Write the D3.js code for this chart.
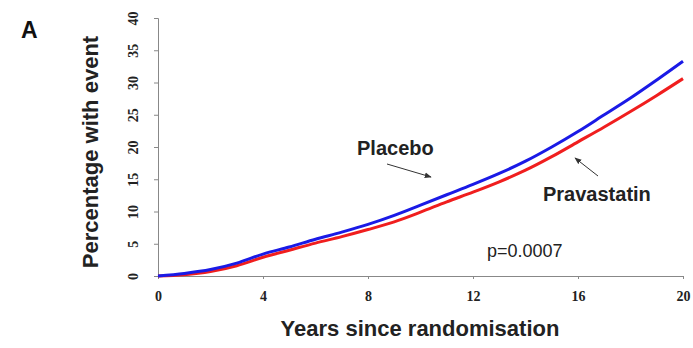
<!DOCTYPE html>
<html lang="en">
  <head>
    <meta charset="UTF-8" />
    <title>Pravastatin vs placebo</title>
    <script src="https://d3js.org/d3.v7.min.js"></script>
    <style>
      body { margin: 0; background: #fff; }
      text { font-family: 'Liberation Sans', Arial, sans-serif; }
      .tick text { font-family: 'Liberation Serif', 'Times New Roman', serif; font-weight: bold; font-size: 14px; fill: #222; }
      .axis path, .axis line { stroke: #888; }
    </style>
  </head>
  <body>
    <script>
      let width = 693
      let height = 348

      // years since randomisation
      let years = [0, 1, 2, 3, 4, 5, 6, 7, 8, 9, 10, 11, 12, 13, 14, 15, 16, 17, 18, 19, 20]
      // cumulative percentage with event
      let placebo = [0, 0.4, 1.0, 2.0, 3.4, 4.5, 5.7, 6.8, 8.0, 9.4, 11.0, 12.6, 14.2, 15.9, 17.8, 20.0, 22.4, 25.0, 27.6, 30.4, 33.3]
      let pravastatin = [0, 0.2, 0.7, 1.6, 2.9, 4.0, 5.1, 6.1, 7.2, 8.4, 9.9, 11.5, 13.0, 14.6, 16.4, 18.5, 20.8, 23.1, 25.5, 28.0, 30.6]
      let xTicks = [0, 4, 8, 12, 16, 20]
      let yTicks = [0, 5, 10, 15, 20, 25, 30, 35, 40]

      let x = d3.scaleLinear().domain([0, 20]).range([158, 683])
      let y = d3.scaleLinear().domain([0, 40]).range([276, 18])

      let svg = d3.select('body').append('svg')
        .attr('width', width)
        .attr('height', height)

      svg.append('defs').append('marker')
        .attr('id', 'head')
        .attr('viewBox', '0 0 10 10')
        .attr('refX', 9).attr('refY', 5)
        .attr('markerWidth', 7).attr('markerHeight', 7)
        .attr('orient', 'auto')
        .append('path')
        .attr('d', 'M0,1 L10,5 L0,9 z')
        .attr('fill', '#333')

      // axes
      svg.append('g')
        .attr('class', 'axis')
        .attr('transform', 'translate(0,' + y(0) + ')')
        .call(d3.axisBottom(x).tickValues(xTicks).tickSizeOuter(0).tickSize(3).tickPadding(12))

      let yAxis = svg.append('g')
        .attr('class', 'axis')
        .attr('transform', 'translate(' + x(0) + ',0)')
        .call(d3.axisLeft(y).tickValues(yTicks).tickSizeOuter(0).tickSize(4))

      // tick labels on the y axis read bottom to top
      yAxis.selectAll('.tick text')
        .attr('x', 0).attr('dy', null)
        .attr('text-anchor', 'middle')
        .attr('transform', 'translate(-25,0) rotate(-90)')
        .attr('dominant-baseline', 'central')

      // curves
      let line = d3.line()
        .x((d, i) => x(years[i]))
        .y(d => y(d))
        .curve(d3.curveMonotoneX)

      svg.append('path')
        .datum(pravastatin)
        .attr('d', line)
        .attr('fill', 'none')
        .attr('stroke', '#f01e1e')
        .attr('stroke-width', 3)

      svg.append('path')
        .datum(placebo)
        .attr('d', line)
        .attr('fill', 'none')
        .attr('stroke', '#1a1ae6')
        .attr('stroke-width', 3)

      // annotations
      svg.append('text')
        .attr('x', 357).attr('y', 155)
        .attr('font-size', 20).attr('font-weight', 'bold').attr('fill', '#222')
        .text('Placebo')

      svg.append('line')
        .attr('x1', 387).attr('y1', 164)
        .attr('x2', 431).attr('y2', 177)
        .attr('stroke', '#333').attr('stroke-width', 1)
        .attr('marker-end', 'url(#head)')

      svg.append('text')
        .attr('x', 543).attr('y', 201)
        .attr('font-size', 20).attr('font-weight', 'bold').attr('fill', '#222')
        .text('Pravastatin')

      svg.append('line')
        .attr('x1', 598).attr('y1', 176)
        .attr('x2', 575).attr('y2', 158)
        .attr('stroke', '#333').attr('stroke-width', 1)
        .attr('marker-end', 'url(#head)')

      svg.append('text')
        .attr('x', 487).attr('y', 257)
        .attr('font-size', 18).attr('fill', '#222')
        .text('p=0.0007')

      // titles
      svg.append('text')
        .attr('x', 420).attr('y', 336)
        .attr('text-anchor', 'middle')
        .attr('font-size', 22).attr('font-weight', 'bold').attr('fill', '#222')
        .text('Years since randomisation')

      svg.append('text')
        .attr('transform', 'translate(98,152) rotate(-90)')
        .attr('text-anchor', 'middle')
        .attr('font-size', 22).attr('font-weight', 'bold').attr('fill', '#222')
        .text('Percentage with event')

      svg.append('text')
        .attr('x', 21).attr('y', 38)
        .attr('font-size', 23).attr('font-weight', 'bold').attr('fill', '#111')
        .text('A')
    </script>
  </body>
</html>
